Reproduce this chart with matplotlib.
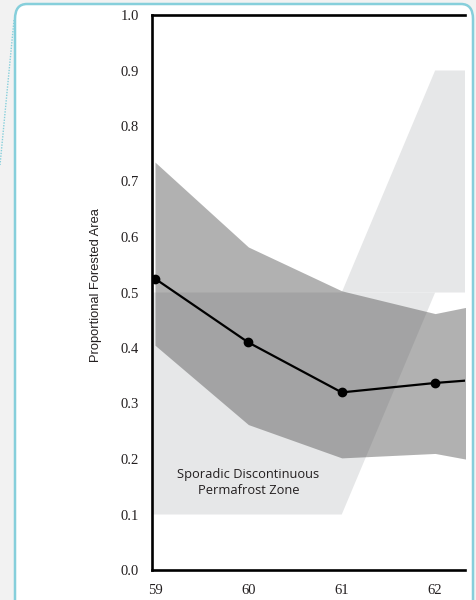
"""
plot.py - proportional forested area by latitude, with permafrost zones
"""

import matplotlib
matplotlib.use("Agg")
import matplotlib.pyplot as plt
from matplotlib.patches import FancyBboxPatch
from matplotlib.lines import Line2D

# latitude (deg N) and forested fraction
lat   = [59, 60, 61, 62, 63]
mean  = [0.525, 0.410, 0.320, 0.337, 0.350]
upper = [0.735, 0.582, 0.503, 0.462, 0.496]
lower = [0.405, 0.262, 0.202, 0.210, 0.179]

# permafrost zone outlines (lat, fraction)
sporadic_x = [58.9, 61, 62, 58.9]
sporadic_y = [0.1, 0.1, 0.5, 0.5]
upper_zone_x = [61, 62, 63, 63]
upper_zone_y = [0.5, 0.9, 0.9, 0.5]

xticks = [59, 60, 61, 62]
yticks = [0.0, 0.1, 0.2, 0.3, 0.4, 0.5, 0.6, 0.7, 0.8, 0.9, 1.0]

TEAL = "#86cfdb"
ZONE = "#e6e7e8"

fig = plt.figure(figsize=(4.77, 6.0), dpi=100)
fig.patch.set_facecolor("#f2f2f2")

# rounded card behind the chart
W, H = 477, 600
card = FancyBboxPatch((15 / W, -0.05), (473 - 15) / W, 1.05 - 4 / H,
                      boxstyle="round,pad=0,rounding_size=0.025",
                      transform=fig.transFigure, facecolor="white",
                      edgecolor=TEAL, linewidth=1.8, zorder=-2)
fig.patches.append(card)
fig.lines.append(Line2D([14 / W, 0], [1 - 20 / H, 1 - 165 / H],
                        transform=fig.transFigure, color=TEAL,
                        linestyle=(0, (1, 1)), linewidth=1.0, zorder=-2))

ax = fig.add_axes([152 / W, 1 - 570 / H, (465 - 152) / W, (570 - 15) / H])
ax.set_facecolor("none")
ax.set_zorder(1)

ax.fill(sporadic_x, sporadic_y, color=ZONE, lw=0, zorder=1)
ax.fill(upper_zone_x, upper_zone_y, color=ZONE, lw=0, zorder=1)
ax.fill_between(lat, lower, upper, color="#4e4e4e", alpha=0.44, lw=0, zorder=2)
ax.plot(lat, mean, color="black", lw=1.6, marker="o", ms=6, zorder=3)

ax.text(60, 0.158, "Sporadic Discontinuous\nPermafrost Zone",
        ha="center", va="center", fontsize=9.3, family="Open Sans",
        color="#231f20", linespacing=1.3, zorder=4)

ax.set_xlim(58.968, 62.32)
ax.set_ylim(0, 1)
ax.set_xticks(xticks)
ax.set_xticklabels([str(x) for x in xticks])
ax.set_yticks(yticks)
ax.set_yticklabels([f"{y:.1f}" for y in yticks])
ax.tick_params(length=0, labelsize=10.5, colors="#231f20")
ax.tick_params(axis="y", pad=9.5)
ax.tick_params(axis="x", pad=10)
for lbl in ax.get_xticklabels() + ax.get_yticklabels():
    lbl.set_family("Liberation Serif")

for side in ("left", "bottom", "top"):
    ax.spines[side].set_linewidth(1.9)
    ax.spines[side].set_color("black")
ax.spines["right"].set_visible(False)

ax.set_ylabel("Proportional Forested Area", family="Liberation Sans",
              fontsize=9.3, color="#231f20")
ax.yaxis.set_label_coords(-0.16, 0.514)

fig.savefig("out.png", dpi=100, facecolor=fig.get_facecolor())
